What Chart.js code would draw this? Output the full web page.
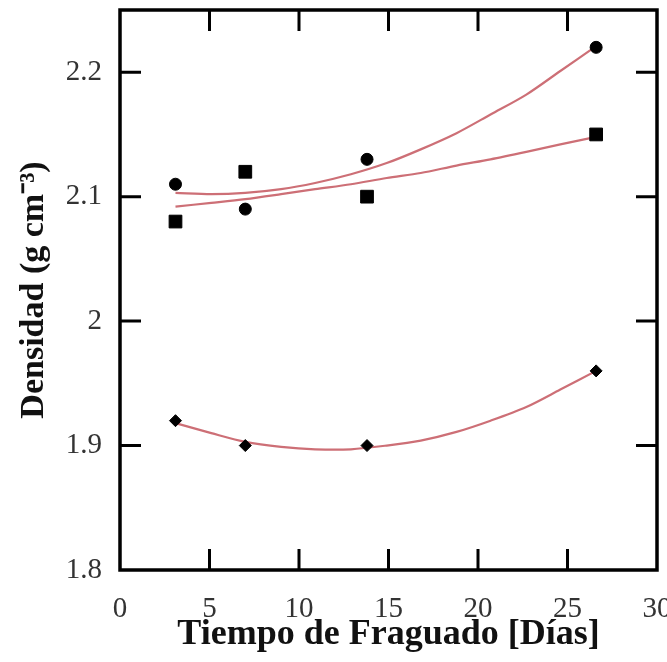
<!DOCTYPE html>
<html><head><meta charset="utf-8">
<script src="https://cdn.jsdelivr.net/npm/chart.js@4.4.1/dist/chart.umd.min.js"></script>
<style>html,body{margin:0;padding:0;background:#fff;}</style>
</head><body>
<canvas id="c" width="667" height="662" style="display:block;width:667px;height:662px"></canvas>
<script>
const days = [3.1, 7, 13.8, 26.6];
const circleDensity = [2.11, 2.09, 2.13, 2.22];
const squareDensity = [2.08, 2.12, 2.10, 2.15];
const diamondDensity = [1.92, 1.90, 1.90, 1.96];

// Fitted trend curves
const fitDays = [3.1, 5.1, 7.0, 9.0, 10.9, 12.9, 14.9, 16.8, 18.8, 20.7, 22.7, 24.6, 26.6];
const circleFit = [2.103, 2.102, 2.103, 2.106, 2.111, 2.118, 2.127, 2.138, 2.151, 2.166, 2.182, 2.201, 2.221];
const squareFit = [2.092, 2.095, 2.098, 2.102, 2.106, 2.110, 2.115, 2.119, 2.125, 2.130, 2.136, 2.142, 2.148];
const diamondFit = [1.918, 1.910, 1.903, 1.899, 1.897, 1.897, 1.900, 1.904, 1.911, 1.920, 1.931, 1.945, 1.960];

// Axis ticks
const xTicks = [0, 5, 10, 15, 20, 25, 30];
const xTickLabels = ['0', '5', '10', '15', '20', '25', '30'];
const yTicks = [1.8, 1.9, 2.0, 2.1, 2.2];
const yTickLabels = ['1.8', '1.9', '2', '2.1', '2.2'];

const toPts = (xs, ys) => xs.map((x, i) => ({x: x, y: ys[i]}));
const lineColor = '#cd6f76';
const serif = 'Liberation Serif';

const framePlugin = {
  id: 'frame',
  afterDatasetsDraw(chart) {
    const {ctx, chartArea: a, scales: {x, y}} = chart;
    const L = 21;
    ctx.save();
    ctx.strokeStyle = '#000';
    ctx.lineWidth = 3;
    ctx.beginPath();
    xTicks.forEach(v => {
      if (v <= x.min || v >= x.max) return;
      const px = x.getPixelForValue(v);
      ctx.moveTo(px, a.bottom); ctx.lineTo(px, a.bottom - L);
      ctx.moveTo(px, a.top); ctx.lineTo(px, a.top + L);
    });
    yTicks.forEach(v => {
      if (v <= y.min || v >= y.max) return;
      const py = y.getPixelForValue(v);
      ctx.moveTo(a.left, py); ctx.lineTo(a.left + L, py);
      ctx.moveTo(a.right, py); ctx.lineTo(a.right - L, py);
    });
    ctx.stroke();
    ctx.lineWidth = 3.5;
    ctx.strokeRect(a.left, a.top, a.right - a.left, a.bottom - a.top);
    ctx.restore();
  }
};

new Chart(document.getElementById('c'), {
  type: 'scatter',
  data: {
    datasets: [
      {label: 'fit1', data: toPts(fitDays, circleFit), showLine: true, borderColor: lineColor, borderWidth: 2.2, pointRadius: 0, tension: 0.3, order: 2},
      {label: 'fit2', data: toPts(fitDays, squareFit), showLine: true, borderColor: lineColor, borderWidth: 2.2, pointRadius: 0, tension: 0.3, order: 2},
      {label: 'fit3', data: toPts(fitDays, diamondFit), showLine: true, borderColor: lineColor, borderWidth: 2.2, pointRadius: 0, tension: 0.3, order: 2},
      {label: 'circles', data: toPts(days, circleDensity), pointStyle: 'circle', pointRadius: 6, backgroundColor: '#000', borderColor: '#000', borderWidth: 1, order: 1},
      {label: 'squares', data: toPts(days, squareDensity), pointStyle: 'rect', pointRadius: 9, backgroundColor: '#000', borderColor: '#000', borderWidth: 1, order: 1},
      {label: 'diamonds', data: toPts(days, diamondDensity), pointStyle: 'rectRot', pointRadius: 6, backgroundColor: '#000', borderColor: '#000', borderWidth: 1, order: 1}
    ]
  },
  options: {
    responsive: false,
    animation: false,
    layout: {padding: {top: 10, right: 10, left: 0, bottom: 0}},
    plugins: {legend: {display: false}, tooltip: {enabled: false}},
    scales: {
      x: {
        type: 'linear', min: 0, max: 30,
        grid: {display: false},
        border: {display: false},
        afterBuildTicks: s => { s.ticks = xTicks.map(v => ({value: v})); },
        afterFit: s => { s.height = 92; s.paddingLeft = 0; s.paddingRight = 0; },
        ticks: {
          padding: 14, color: '#333', font: {family: serif, size: 29},
          autoSkip: false, maxRotation: 0,
          callback: (v) => { const i = xTicks.indexOf(v); return i >= 0 ? xTickLabels[i] : ''; }
        },
        title: {display: true, text: 'Tiempo de Fraguado [Días]', color: '#111',
          font: {family: serif, size: 36, weight: 'bold'}, padding: {top: 0, bottom: 6}}
      },
      y: {
        type: 'linear', min: 1.8, max: 2.25,
        grid: {display: false},
        border: {display: false},
        afterBuildTicks: s => { s.ticks = yTicks.map(v => ({value: v})); },
        afterFit: s => { s.width = 120; s.paddingTop = 0; s.paddingBottom = 0; },
        ticks: {
          padding: 10, color: '#333', font: {family: serif, size: 29},
          autoSkip: false,
          callback: (v) => { const i = yTicks.findIndex(t => Math.abs(t - v) < 1e-9); return i >= 0 ? yTickLabels[i] : ''; }
        },
        title: {display: true, text: 'Densidad (g cm⁻³)', color: '#111',
          font: {family: serif, size: 34, weight: 'bold'}, padding: {top: 14, bottom: 0}}
      }
    }
  },
  plugins: [framePlugin]
});
</script>
</body></html>
